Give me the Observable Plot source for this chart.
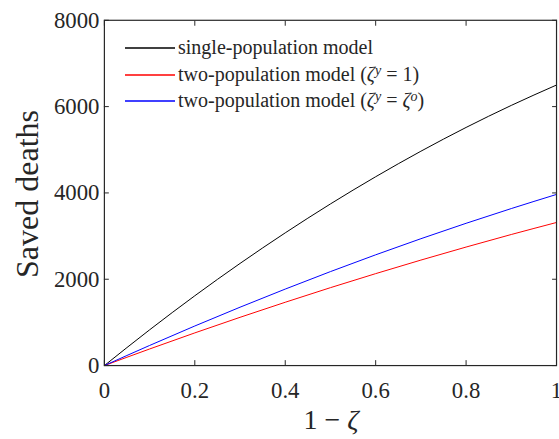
<!DOCTYPE html>
<html><head><meta charset="utf-8">
<script src="https://cdn.jsdelivr.net/npm/d3@7"></script>
<script src="https://cdn.jsdelivr.net/npm/@observablehq/plot@0.6"></script>
<style>
html,body{margin:0;padding:0;overflow:hidden;background:#fff;width:559px;height:439px;}
#wrap{position:relative;width:559px;height:439px;overflow:hidden;}
#chart{position:absolute;left:0;top:0;}
.t{position:absolute;font-family:"Liberation Serif",serif;color:#262626;white-space:nowrap;}
.leg{font-size:20px;line-height:20px;}
.sw{position:absolute;left:125px;width:50px;height:4px;overflow:visible;}
.sup{font-size:0.7em;position:relative;top:-0.45em;font-style:italic;}
</style></head>
<body><div id="wrap"><div id="chart"></div></div>
<script>
const xs       = [0, 0.1, 0.2, 0.3, 0.4, 0.5, 0.6, 0.7, 0.8, 0.9, 1.0];
const single   = [0, 828, 1617, 2366, 3075, 3745, 4375, 4966, 5517, 6028, 6500];
const twoPopY1 = [0, 384, 757, 1118, 1467, 1805, 2130, 2444, 2746, 3037, 3315];
const twoPopYO = [0, 466, 917, 1352, 1772, 2177, 2566, 2939, 3296, 3638, 3965];
const seriesColors = ["#000000", "#ff0000", "#0000ff"];
const xTicks = [0, 0.2, 0.4, 0.6, 0.8, 1];
const xTickLabels = ["0", "0.2", "0.4", "0.6", "0.8", "1"];
const yTicks = [0, 2000, 4000, 6000, 8000];
const yTickLabels = ["0", "2000", "4000", "6000", "8000"];

const mk = ys => xs.map((x, i) => ({x, y: ys[i]}));
const axisColor = "#262626";

const chart = Plot.plot({
  width: 565, height: 439,
  marginLeft: 105, marginRight: 3, marginTop: 20, marginBottom: 70,
  x: {domain: [0, 1]},
  y: {domain: [0, 8000]},
  style: {fontFamily: "'Liberation Serif', serif", fontSize: "23px", color: axisColor, background: "transparent"},
  marks: [
    Plot.line(mk(single),   {x: "x", y: "y", stroke: seriesColors[0], strokeWidth: 1, curve: "monotone-x"}),
    Plot.line(mk(twoPopY1), {x: "x", y: "y", stroke: seriesColors[1], strokeWidth: 1, curve: "monotone-x"}),
    Plot.line(mk(twoPopYO), {x: "x", y: "y", stroke: seriesColors[2], strokeWidth: 1, curve: "monotone-x"}),
    Plot.axisX({anchor: "bottom", ticks: xTicks, tickFormat: (d, i) => xTickLabels[i], tickSize: -5, tickPadding: 21, label: null, stroke: axisColor, fill: axisColor}),
    Plot.axisX({anchor: "top", ticks: xTicks, tickFormat: () => "", tickSize: -5, label: null, stroke: axisColor}),
    Plot.axisY({anchor: "left", ticks: yTicks, tickFormat: (d, i) => yTickLabels[i], tickSize: -5, tickPadding: 10, label: null, stroke: axisColor, fill: axisColor}),
    Plot.axisY({anchor: "right", ticks: yTicks, tickFormat: () => "", tickSize: -5, label: null, stroke: axisColor}),
    Plot.frame({stroke: axisColor, strokeWidth: 1.2})
  ]
});
document.getElementById("chart").appendChild(chart);

const wrap = document.getElementById("wrap");
const legendItems = [
  {c: seriesColors[0], html: "single-population model"},
  {c: seriesColors[1], html: "two-population model (<i>ζ</i><span class='sup'>y</span> = 1)"},
  {c: seriesColors[2], html: "two-population model (<i>ζ</i><span class='sup'>y</span> = <i>ζ</i><span class='sup'>o</span>)"}
];
const SVGNS = "http://www.w3.org/2000/svg";
legendItems.forEach((it, i) => {
  const cy = Math.round(48 + 26.5 * i);
  const s = document.createElementNS(SVGNS, "svg");
  s.setAttribute("class", "sw"); s.setAttribute("width", "50"); s.setAttribute("height", "4");
  s.style.top = (cy - 2) + "px";
  const ln = document.createElementNS(SVGNS, "line");
  ln.setAttribute("x1", "0"); ln.setAttribute("x2", "50"); ln.setAttribute("y1", "2"); ln.setAttribute("y2", "2");
  ln.setAttribute("stroke", it.c); ln.setAttribute("stroke-width", "1.3");
  s.appendChild(ln);
  wrap.appendChild(s);
  const t = document.createElement("div");
  t.className = "t leg"; t.style.left = "178px"; t.style.top = (cy - 11) + "px"; t.innerHTML = it.html;
  wrap.appendChild(t);
});
const xl = document.createElement("div");
xl.className = "t"; xl.style.fontSize = "28px"; xl.style.lineHeight = "28px";
xl.innerHTML = "1 − <i>ζ</i>";
wrap.appendChild(xl);
xl.style.left = (331 - xl.offsetWidth / 2) + "px"; xl.style.top = "406px";
const yl = document.createElement("div");
yl.className = "t"; yl.style.fontSize = "32px"; yl.style.lineHeight = "32px";
yl.textContent = "Saved deaths";
wrap.appendChild(yl);
const w = yl.offsetWidth;
yl.style.left = (27 - w / 2) + "px"; yl.style.top = (194 - 16) + "px";
yl.style.transform = "rotate(-90deg)";
</script>
</body></html>
